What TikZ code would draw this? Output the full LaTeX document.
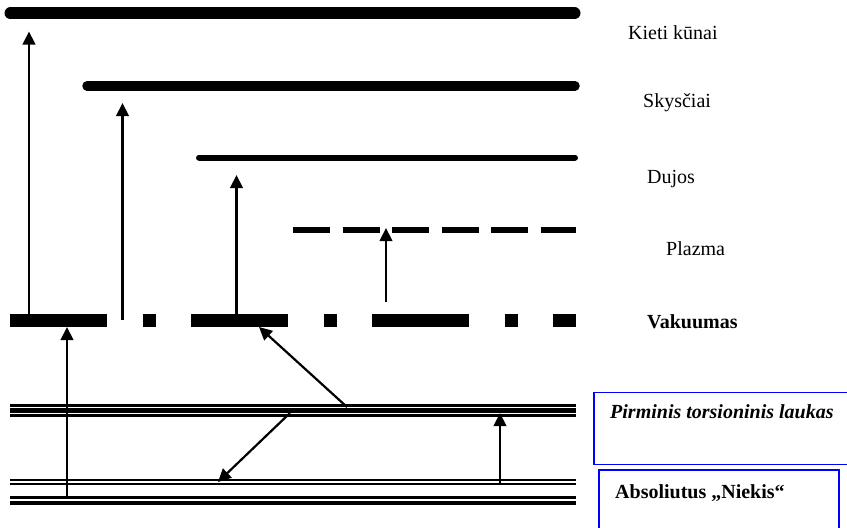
\documentclass[tikz,border=0pt]{standalone}
\usepackage{fontspec}
\setmainfont{Liberation Serif}
\usetikzlibrary{arrows.meta}
\begin{document}
\begin{tikzpicture}[x=1pt,y=-1pt,
  arr/.style={line width=2.2pt,-{Triangle[length=13pt,width=12.5pt]}},
  lab/.style={anchor=base west,inner sep=0pt,font=\fontsize{20}{24}\selectfont},
  bluebox/.style={draw=blue,line width=1.5pt},
  lvl/.style={line width=#1}]
\useasboundingbox (0,0) rectangle (847,528);
\clip (0,0) rectangle (847,528);
% level lines
\draw[lvl=12pt,line cap=round] (10.5,13.3) -- (574.5,13.3);
\draw[lvl=9.5pt,line cap=round] (87,85.8) -- (575,85.8);
\draw[lvl=6pt,line cap=round] (199,157.5) -- (575,157.5);
\draw[lvl=5.5pt,dash pattern=on 37pt off 12.5pt] (293,230) -- (576,230);
\draw[lvl=12.5pt,dash pattern=on 97pt off 35.5pt on 13pt off 35.5pt] (10,320.3) -- (576,320.3);
% Pirminis torsioninis laukas (triple line)
\draw[lvl=2.8pt] (10,405.3) -- (576,405.3);
\draw[lvl=5.2pt] (10,410.8) -- (576,410.8);
\draw[lvl=2.6pt] (10,415.5) -- (576,415.5);
% Absoliutus Niekis
\draw[lvl=2.2pt] (10,480.3) -- (576,480.3);
\draw[lvl=2.7pt] (10,484) -- (576,484);
\draw[lvl=3.4pt] (10,497.7) -- (576,497.7);
\draw[lvl=4.8pt] (10,503) -- (576,503);
% labels
\node[lab] (kieti) at (628,39.3) {Kieti kūnai};
\node[lab] (sky) at (643,107) {Skysčiai};
\node[lab] (duj) at (647,183) {Dujos};
\node[lab] (plz) at (666,255) {Plazma};
\node[lab,font=\fontsize{20}{24}\selectfont\bfseries] (vak) at (647,328) {Vakuumas};
\draw[bluebox] (594,392.7) rectangle (850,464.3);
\node[lab,font=\fontsize{20}{24}\selectfont\bfseries\itshape] (pirm) at (610,418.5) {Pirminis torsioninis laukas};
\draw[bluebox] (599,470) rectangle (839,531);
\node[lab,font=\fontsize{20}{24}\selectfont\bfseries] (abs) at (615,498) {Absoliutus „Niekis“};
% arrow end points
\coordinate (a1s) at (29,315);   \coordinate (a1e) at (29,31.5);
\coordinate (a2s) at (122.5,320); \coordinate (a2e) at (122.5,103);
\coordinate (a3s) at (236.5,315); \coordinate (a3e) at (236.5,175);
\coordinate (a4s) at (386,302);  \coordinate (a4e) at (386,228);
\coordinate (a5s) at (67,499);   \coordinate (a5e) at (67,327);
\coordinate (a6s) at (347,407);  \coordinate (a6e) at (259,327);
\coordinate (a7s) at (290,413);  \coordinate (a7e) at (218,482);
\coordinate (a8s) at (500,483);  \coordinate (a8e) at (500,413);
\draw[arr] (a1s) -- (a1e);
\draw[arr] (a2s) -- (a2e);
\draw[arr] (a3s) -- (a3e);
\draw[arr] (a4s) -- (a4e);
\draw[arr] (a5s) -- (a5e);
\draw[arr] (a6s) -- (a6e);
\draw[arr] (a7s) -- (a7e);
\draw[arr] (a8s) -- (a8e);
\end{tikzpicture}
\end{document}
